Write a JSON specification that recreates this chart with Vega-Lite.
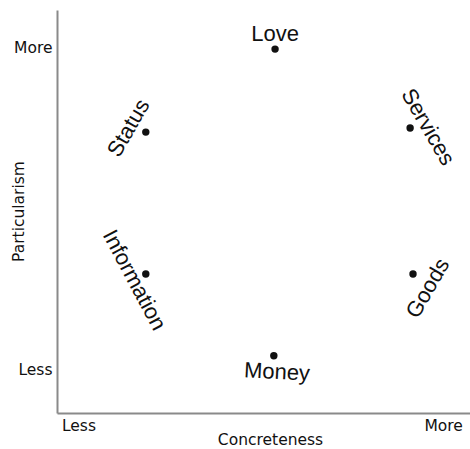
{
  "$schema": "https://vega.github.io/schema/vega-lite/v6.json",
  "width": 413,
  "height": 403,
  "autosize": {"type": "none"},
  "padding": {"left": 57, "top": 10, "right": 0, "bottom": 36},
  "background": "white",
  "config": {"view": {"stroke": null}},
  "data": {
    "values": [
      {"resource": "Love", "concreteness": 5.28, "particularism": 9.03},
      {"resource": "Status", "concreteness": 2.15, "particularism": 6.97},
      {"resource": "Services", "concreteness": 8.55, "particularism": 7.07},
      {"resource": "Information", "concreteness": 2.15, "particularism": 3.45},
      {"resource": "Goods", "concreteness": 8.62, "particularism": 3.45},
      {"resource": "Money", "concreteness": 5.25, "particularism": 1.42}
    ]
  },
  "encoding": {
    "x": {
      "field": "concreteness", "type": "quantitative",
      "scale": {"domain": [0, 10], "nice": false, "zero": false},
      "axis": {
        "title": "Concreteness",
        "values": [0.52, 9.35],
        "labelExpr": "datum.value > 5 ? 'More' : 'Less'",
        "ticks": false, "grid": false,
        "domainColor": "#8a8a8a", "domainWidth": 2,
        "labelFont": "DejaVu Sans", "labelFontSize": 15.5, "labelColor": "#111",
        "labelPadding": 5,
        "titleFont": "DejaVu Sans", "titleFontSize": 15.5, "titleFontWeight": "normal", "titleColor": "#111",
        "titleX": 213, "titleY": 26, "titleBaseline": "middle", "titleAlign": "center"
      }
    },
    "y": {
      "field": "particularism", "type": "quantitative",
      "scale": {"domain": [0, 10], "nice": false, "zero": false},
      "axis": {
        "title": "Particularism",
        "values": [1.07, 9.08],
        "labelExpr": "datum.value > 5 ? 'More' : 'Less'",
        "ticks": false, "grid": false,
        "domainColor": "#8a8a8a", "domainWidth": 2,
        "labelFont": "DejaVu Sans", "labelFontSize": 15.5, "labelColor": "#111",
        "labelPadding": 5,
        "titleFont": "DejaVu Sans", "titleFontSize": 15.5, "titleFontWeight": "normal", "titleColor": "#111",
        "titleX": -39, "titleY": 201, "titleAngle": -90, "titleBaseline": "middle", "titleAlign": "center"
      }
    }
  },
  "layer": [
    {"mark": {"type": "point", "filled": true, "size": 55, "color": "#111", "opacity": 1}},
    {
      "transform": [{"filter": "datum.resource == 'Love'"}],
      "mark": {"type": "text", "font": "Liberation Sans", "fontSize": 22, "color": "#111", "align": "center", "baseline": "middle", "dy": -15},
      "encoding": {"text": {"field": "resource"}}
    },
    {
      "transform": [{"filter": "datum.resource == 'Money'"}],
      "mark": {"type": "text", "font": "Liberation Sans", "fontSize": 22, "color": "#111", "align": "center", "baseline": "middle", "dy": 16, "dx": 4, "angle": 3},
      "encoding": {"text": {"field": "resource"}}
    },
    {
      "transform": [{"filter": "datum.resource == 'Status'"}],
      "mark": {"type": "text", "font": "Liberation Sans", "fontSize": 22, "color": "#111", "align": "center", "baseline": "middle", "angle": -60, "dx": -5, "dy": -17},
      "encoding": {"text": {"field": "resource"}}
    },
    {
      "transform": [{"filter": "datum.resource == 'Information'"}],
      "mark": {"type": "text", "font": "Liberation Sans", "fontSize": 22, "color": "#111", "align": "center", "baseline": "middle", "angle": 62, "dx": 0, "dy": 13},
      "encoding": {"text": {"field": "resource"}}
    },
    {
      "transform": [{"filter": "datum.resource == 'Services'"}],
      "mark": {"type": "text", "font": "Liberation Sans", "fontSize": 22, "color": "#111", "align": "center", "baseline": "middle", "angle": 60, "dx": 8, "dy": -16},
      "encoding": {"text": {"field": "resource"}}
    },
    {
      "transform": [{"filter": "datum.resource == 'Goods'"}],
      "mark": {"type": "text", "font": "Liberation Sans", "fontSize": 22, "color": "#111", "align": "center", "baseline": "middle", "angle": -60, "dx": -5, "dy": 20},
      "encoding": {"text": {"field": "resource"}}
    }
  ]
}
